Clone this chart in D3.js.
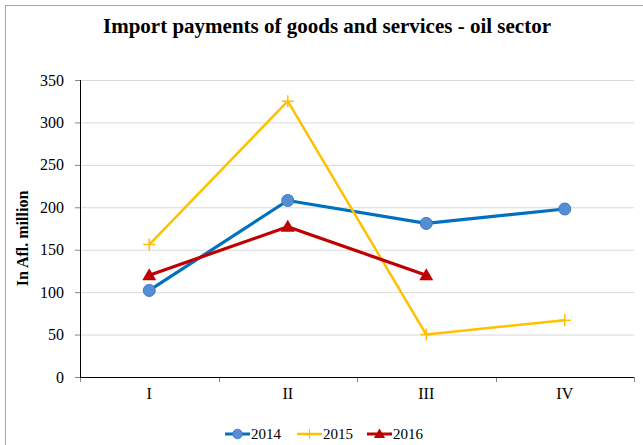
<!DOCTYPE html>
<meta charset="utf-8">
<style>
body { margin: 0; background: #fff; }
svg text { font-family: "Liberation Serif", Tinos, "Times New Roman", Times, "DejaVu Serif", serif; fill: #000; }
.grid line { stroke: #d9d9d9; }
.axis path { display: none; }
.axis line { stroke: #888; }
.axis text { font-size: 16px; }
</style>
<svg width="643" height="445"></svg>
<script src="https://cdn.jsdelivr.net/npm/d3@7"></script>
<script>

var quarters = ["I", "II", "III", "IV"];
var yTicks = [0, 50, 100, 150, 200, 250, 300, 350];
var s2014 = [102, 208, 181, 198];
var s2015 = [156, 325, 50, 67];
var s2016 = [120, 177, 120, null];

var series = [
  {name: "2014", values: s2014, color: "#0070C0", marker: "circle"},
  {name: "2015", values: s2015, color: "#FFC000", marker: "plus"},
  {name: "2016", values: s2016, color: "#C00000", marker: "triangle"}
];

var svg = d3.select("svg"),
    margin = {top: 80, right: 9, bottom: 68, left: 80},
    width = +svg.attr("width") - margin.left - margin.right,
    height = +svg.attr("height") - margin.top - margin.bottom;

// outer frame
svg.append("rect")
  .attr("x", 5.5).attr("y", 5.5)
  .attr("width", 700).attr("height", 500)
  .attr("fill", "none").attr("stroke", "#a6a6a6");

svg.append("text")
  .attr("x", 327).attr("y", 33)
  .attr("text-anchor", "middle")
  .style("font-size", "21px").style("font-weight", "bold")
  .text("Import payments of goods and services - oil sector");

var g = svg.append("g").attr("transform", "translate(" + margin.left + "," + margin.top + ")");

var x = d3.scaleBand().domain(quarters).range([0, width]);
var y = d3.scaleLinear().domain([0, 350]).range([height, 0]);

g.append("g").attr("class", "grid")
  .selectAll("line").data(yTicks.slice(1)).enter().append("line")
  .attr("x1", 0).attr("x2", width)
  .attr("y1", function(d) { return y(d) + 0.5; })
  .attr("y2", function(d) { return y(d) + 0.5; });

g.append("g").attr("class", "axis")
  .call(d3.axisLeft(y).tickValues(yTicks).tickSize(5).tickPadding(11))
  .attr("font-family", null)
  .selectAll("text").attr("dy", "0.32em");

g.append("g").attr("class", "axis")
  .attr("transform", "translate(0," + height + ")")
  .call(d3.axisBottom(x).tickSize(0).tickPadding(11))
  .attr("font-family", null);

// category boundary ticks
g.append("g").attr("class", "axis")
  .selectAll("line").data(d3.range(quarters.length + 1)).enter().append("line")
  .attr("x1", function(i) { return Math.round(i * x.step()) + 0.5; })
  .attr("x2", function(i) { return Math.round(i * x.step()) + 0.5; })
  .attr("y1", height).attr("y2", height + 5);

g.append("line")
  .attr("x1", 0).attr("x2", width)
  .attr("y1", height + 0.5).attr("y2", height + 0.5)
  .attr("stroke", "#000");
g.append("line")
  .attr("x1", 0.5).attr("x2", 0.5)
  .attr("y1", 0).attr("y2", height)
  .attr("stroke", "#000");

svg.append("text")
  .attr("transform", "translate(28," + (margin.top + height / 2 + 10) + ") rotate(-90)")
  .attr("text-anchor", "middle")
  .style("font-size", "16px").style("font-weight", "bold")
  .text("In Afl. million");

var line = d3.line()
  .defined(function(d) { return d != null; })
  .x(function(d, i) { return x(quarters[i]) + x.bandwidth() / 2; })
  .y(function(d) { return y(d); });

function drawMarker(sel, type, color) {
  if (type === "circle") {
    sel.append("circle").attr("r", 6).attr("fill", "#558ED5").attr("stroke", "#3a78c4").attr("stroke-width", 1);
  } else if (type === "triangle") {
    sel.append("path").attr("d", "M0,-7L7,5L-7,5Z").attr("fill", color);
  } else {
    sel.append("path").attr("d", "M-6,0H6M0,-6V6").attr("stroke", color).attr("stroke-width", 1.5);
  }
}

series.forEach(function(s) {
  g.append("path")
    .datum(s.values)
    .attr("fill", "none")
    .attr("stroke", s.color)
    .attr("stroke-width", s.marker === "plus" ? 2.5 : 3.2)
    .attr("stroke-linejoin", "round")
    .attr("d", line);
});

series.forEach(function(s) {
  s.values.forEach(function(v, i) {
    if (v == null) return;
    var m = g.append("g")
      .attr("transform", "translate(" + (x(quarters[i]) + x.bandwidth() / 2) + "," + y(v) + ")");
    drawMarker(m, s.marker, s.color);
  });
});

// legend
var legend = svg.append("g").attr("transform", "translate(225,434)");
var lx = [0, 72, 142];
series.forEach(function(s, i) {
  var it = legend.append("g").attr("transform", "translate(" + lx[i] + ",0)");
  it.append("line").attr("x1", 0).attr("x2", 25).attr("y1", 0).attr("y2", 0)
    .attr("stroke", s.color).attr("stroke-width", s.marker === "plus" ? 2.5 : 3);
  var m = it.append("g").attr("transform", "translate(12.5,0) scale(0.8)");
  drawMarker(m, s.marker, s.color);
  it.append("text").attr("x", 26).attr("y", 0).attr("dy", "0.35em")
    .style("font-size", "15px").text(s.name);
});

</script>
